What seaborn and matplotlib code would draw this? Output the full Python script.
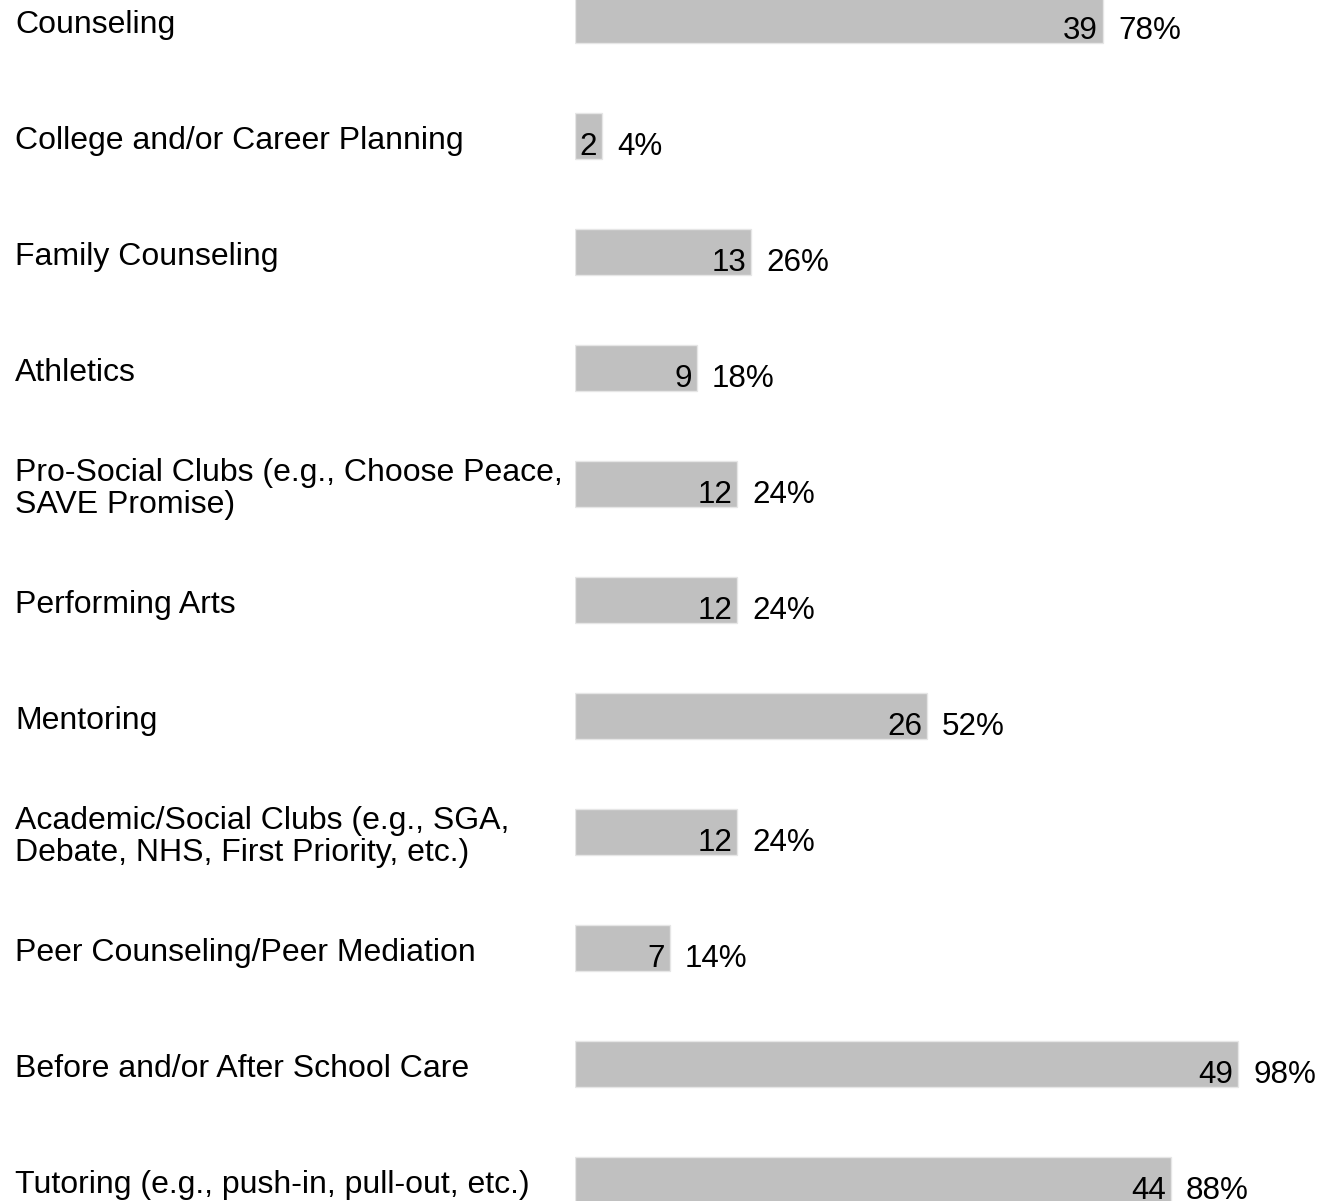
import numpy as np
import pandas as pd
import matplotlib
matplotlib.use("Agg")
import matplotlib.pyplot as plt
import matplotlib.transforms as mtransforms
import seaborn as sns

categories = [
    "Counseling",
    "College and/or Career Planning",
    "Family Counseling",
    "Athletics",
    "Pro-Social Clubs (e.g., Choose Peace,\nSAVE Promise)",
    "Performing Arts",
    "Mentoring",
    "Academic/Social Clubs (e.g., SGA,\nDebate, NHS, First Priority, etc.)",
    "Peer Counseling/Peer Mediation",
    "Before and/or After School Care",
    "Tutoring (e.g., push-in, pull-out, etc.)",
]
counts = [39, 2, 13, 9, 12, 12, 26, 12, 7, 49, 44]
percents = ["78%", "4%", "26%", "18%", "24%", "24%", "52%", "24%", "14%", "98%", "88%"]

df = pd.DataFrame({"service": categories, "count": counts})

sns.set_style("white")
plt.rcParams['font.family'] = ['Liberation Sans', 'DejaVu Sans']

fig = plt.figure(figsize=(13.22, 12.01), dpi=100)
ax = fig.add_axes([575 / 1322, 0, 747 / 1322, 1])

sns.barplot(data=df, x="count", y="service", orient="h", color="#c0c0c0",
            saturation=1, width=0.397, edgecolor="#e6e6e6", linewidth=1, ax=ax)

px_x = 13.54   # pixels per count unit
px_y = 116     # pixels per category step
ax.set_xlim(0, 747 / px_x)
ax.set_ylim((1201 - 20) / px_y, -20 / px_y)
ax.set_axis_off()

fs = 22.6
for i, (c, p) in enumerate(zip(counts, percents)):
    ax.text(c - 5 / px_x, i + 19 / px_y, str(c), ha="right", va="baseline",
            fontsize=fs, color="black")
    ax.text(c + 15 / px_x, i + 19 / px_y, p, ha="left", va="baseline",
            fontsize=fs, color="black")

lab_tr = mtransforms.blended_transform_factory(fig.transFigure, ax.transData)
for i, name in enumerate(categories):
    ax.text(15 / 1322, i + 5 / px_y, name, transform=lab_tr, ha="left",
            va="center", fontsize=23, linespacing=1.06, color="black",
            clip_on=False)

fig.savefig("out.png", dpi=100)
